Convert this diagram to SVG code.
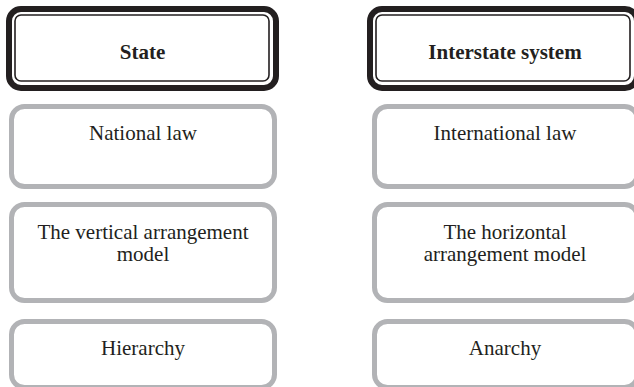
<svg xmlns="http://www.w3.org/2000/svg" width="634" height="387" viewBox="0 0 634 387">
<style>
.outer{fill:none;stroke:#231f20;stroke-width:6}
.inner{fill:none;stroke:#231f20;stroke-width:1.6}
.box{fill:#fff;stroke:#b2b3b6;stroke-width:5}
text{font-family:"Liberation Serif","Times New Roman",serif;font-size:21px;fill:#231f20;text-anchor:middle}
.b{font-weight:bold}
</style>
<rect width="634" height="387" fill="#fff"/>
<g id="state">
<rect class="outer" x="9" y="9" width="267" height="79" rx="12"/>
<rect class="inner" x="15" y="15" width="254" height="66" rx="6"/>
<text class="b" x="142.5" y="59">State</text>
</g>
<g id="interstate-system">
<rect class="outer" x="370" y="9" width="267" height="79" rx="12"/>
<rect class="inner" x="376" y="15" width="254" height="66" rx="6"/>
<text class="b" x="505" y="59">Interstate system</text>
</g>
<g id="national-law">
<rect class="box" x="11.5" y="106.5" width="263" height="80" rx="13"/>
<text x="143" y="140">National law</text>
</g>
<g id="international-law">
<rect class="box" x="374.5" y="106.5" width="263" height="80" rx="13"/>
<text x="505" y="140">International law</text>
</g>
<g id="vertical-model">
<rect class="box" x="11.5" y="204.5" width="263" height="96" rx="13"/>
<text x="143" y="239">The vertical arrangement</text>
<text x="143" y="261">model</text>
</g>
<g id="horizontal-model">
<rect class="box" x="374.5" y="204.5" width="263" height="96" rx="13"/>
<text x="505" y="239">The horizontal</text>
<text x="505" y="261">arrangement model</text>
</g>
<g id="hierarchy">
<rect class="box" x="11.5" y="321.5" width="263" height="66" rx="13"/>
<text x="143" y="355">Hierarchy</text>
</g>
<g id="anarchy">
<rect class="box" x="374.5" y="321.5" width="263" height="66" rx="13"/>
<text x="505" y="355">Anarchy</text>
</g>
<g id="connectors"></g>
</svg>
